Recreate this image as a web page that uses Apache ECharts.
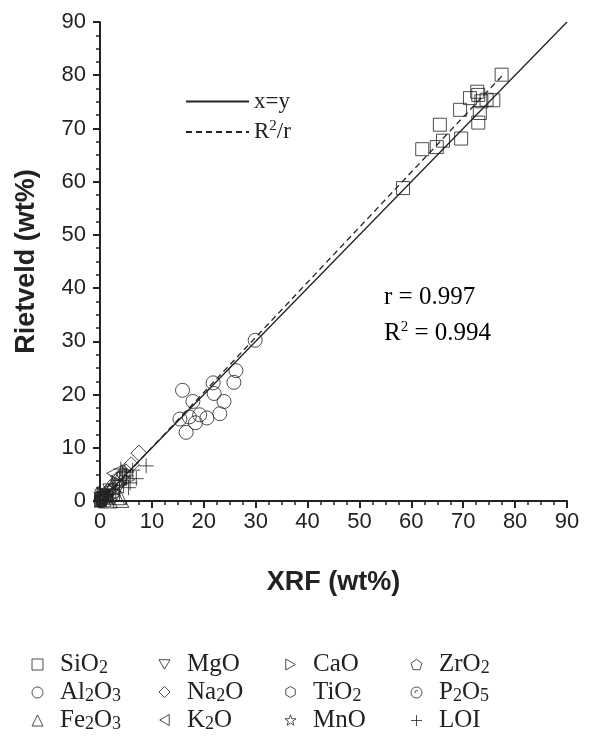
<!DOCTYPE html>
<html>
<head>
<meta charset="utf-8">
<script src="https://cdn.jsdelivr.net/npm/echarts@6/dist/echarts.min.js"></script>
<style>
  html, body { margin: 0; padding: 0; background: #fff; }
  #chart { width: 596px; height: 752px; }
</style>
</head>
<body>
<div id="chart"></div>
<script>
// XRF (x) vs Rietveld (y), wt%
const sio2 = [[77.4, 80.1], [72.7, 76.9], [72.9, 76.3], [71.3, 75.7], [75.8, 75.3], [73.5, 75.1],
  [74.5, 75.4], [69.4, 73.5], [73.2, 72.9], [72.9, 71.1], [65.5, 70.7], [69.6, 68.1],
  [66.1, 67.7], [64.9, 66.5], [62.1, 66.1], [58.4, 58.8]]
const al2o3 = [[29.9, 30.2], [26.2, 24.5], [25.8, 22.3], [21.8, 22.2], [15.9, 20.8], [22.0, 20.2],
  [17.9, 18.7], [23.9, 18.7], [23.1, 16.4], [15.4, 15.4], [17.2, 15.8], [19.2, 16.2],
  [20.6, 15.6], [18.4, 14.7], [16.6, 12.9]]
const fe2o3 = [[4.0, 0.3], [3.2, 0.8], [1.2, 1.5], [2.4, 2.8], [4.2, 5.3], [0.6, 0.4], [1.8, 0.2]]
const mgo = [[0.5, 0.8], [1.0, 0.4], [2.0, 1.8], [3.5, 2.5], [0.3, 0.3], [4.5, 4.0]]
const na2o = [[7.5, 9.0], [5.0, 5.5], [3.0, 3.5], [1.5, 1.8], [0.5, 0.8], [6.0, 6.8]]
const k2o = [[2.8, 5.2], [3.5, 4.6], [1.5, 2.0], [0.8, 1.0], [2.2, 1.5], [3.0, 3.0]]
const cao = [[1.0, 1.3], [2.5, 1.0], [0.4, 0.2], [3.8, 3.2], [5.2, 4.0]]
const tio2 = [[0.5, 0.6], [0.8, 0.3], [1.2, 1.0], [0.3, 0.8]]
const mno = [[0.1, 0.3], [0.2, 0.1], [0.5, 0.5], [1.5, 0.9]]
const zro2 = [[0.1, 0.2], [0.2, 0.5], [0.4, 0.1]]
const p2o5 = [[0.1, -0.1], [0.3, 0.4], [0.2, 0.8]]
const loi = [[8.9, 6.6], [7.0, 4.2], [5.8, 3.4], [5.1, 4.7], [4.8, 5.6], [4.0, 6.0], [6.3, 5.8],
  [3.8, 3.0], [2.5, 2.2], [5.5, 2.5], [1.5, 1.2]]

const identityLine = [[0, 0], [90, 90]]
const fitLine = [[0, -0.3], [77.5, 79.9]]

const ink = '#222'
const serif = '"Liberation Serif", "Times New Roman", serif'
const sans = '"Liberation Sans", Arial, sans-serif'

const star = 'path://M5,0L6.176,3.382L9.755,3.455L6.902,5.618L7.939,9.045L5,7L2.061,9.045L3.098,5.618L0.245,3.455L3.824,3.382Z'
const pentagon = 'path://M5,0L9.755,3.455L7.939,9.045L2.061,9.045L0.245,3.455Z'
const hexagon = 'path://M5,0L9.33,2.5L9.33,7.5L5,10L0.67,7.5L0.67,2.5Z'
const curl = 'path://M0,5A5,5 0 1,1 10,5A5,5 0 1,1 0,5ZM4.2,5.6A1.4,1.4 0 1,1 6.4,4.2'
const plus = 'path://M5,0L5,10M0,5L10,5'
const triDown = 'path://M0,0L10,0L5,8.66Z'
const triLeft = 'path://M0,5L8.66,0L8.66,10Z'
const triRight = 'path://M0,0L8.66,5L0,10Z'

const hollow = { color: 'rgba(0,0,0,0)', borderColor: ink, borderWidth: 1 }

function scatter(name, data, symbol, size) {
  return {
    name, type: 'scatter', data, symbol, symbolSize: size,
    itemStyle: hollow, clip: false, z: 3
  }
}

// subscripts / superscripts through rich text
const rich = {
  n: { fontFamily: serif, fontSize: 25, color: ink, lineHeight: 26 },
  f: { fontFamily: serif, fontSize: 25, color: ink, lineHeight: 26, padding: [0, 0, 0, 12] },
  s: { fontFamily: serif, fontSize: 18, color: ink, lineHeight: 4, verticalAlign: 'bottom' },
  p: { fontFamily: serif, fontSize: 15, color: ink, lineHeight: 10, verticalAlign: 'top' }
}
const chem = (name) => '{f|' + name.replace(/(\d)/g, '}{s|$1}{n|') + '}'

function column(left, names) {
  return {
    data: names, orient: 'vertical', left, top: 647, itemGap: 2.5,
    itemWidth: 11, itemHeight: 11, selectedMode: false,
    itemStyle: hollow,
    formatter: chem,
    textStyle: { rich }
  }
}

const chart = echarts.init(document.getElementById('chart'))

const axisCommon = {
  type: 'value', min: 0, max: 90, interval: 10,
  axisLine: { lineStyle: { color: ink, width: 2 } },
  axisTick: { length: 7, lineStyle: { color: ink, width: 2 } },
  minorTick: { show: true, splitNumber: 4, length: 4, lineStyle: { color: ink, width: 1.5 } },
  splitLine: { show: false },
  nameLocation: 'middle',
  nameTextStyle: { fontFamily: sans, fontWeight: 'bold', fontSize: 27, color: ink }
}

chart.setOption({
  animation: false,
  grid: { left: 100, right: 29, top: 22, bottom: 251, outerBoundsMode: 'none' },
  xAxis: Object.assign({}, axisCommon, {
    name: 'XRF (wt%)', nameGap: 68,
    axisLabel: { fontFamily: sans, fontSize: 22, color: ink, margin: 10 }
  }),
  yAxis: Object.assign({}, axisCommon, {
    name: 'Rietveld (wt%)', nameGap: 60,
    axisLabel: { fontFamily: sans, fontSize: 22, color: ink, margin: 14 }
  }),
  legend: [
    {
      data: ['x=y', 'R2/r'], orient: 'vertical', left: 180, top: 85, itemGap: 6,
      itemWidth: 63, itemHeight: 14, selectedMode: false,
      itemStyle: { opacity: 0 },
      formatter: (name) => name === 'R2/r' ? '{n|R}{p|2}{n|/r}' : '{n|x=y}',
      textStyle: { rich: Object.assign({}, rich, { n: Object.assign({}, rich.n, { fontSize: 23 }) }) }
    },
    column(26.5, ['SiO2', 'Al2O3', 'Fe2O3']),
    column(153.5, ['MgO', 'Na2O', 'K2O']),
    column(279.5, ['CaO', 'TiO2', 'MnO']),
    column(405.5, ['ZrO2', 'P2O5', 'LOI'])
  ],
  graphic: [
    {
      type: 'text', x: 384, y: 297,
      style: { text: '{n|r = 0.997}', rich, verticalAlign: 'middle' }
    },
    {
      type: 'text', x: 384, y: 333,
      style: { text: '{n|R}{p|2}{n| = 0.994}', rich, verticalAlign: 'middle' }
    }
  ],
  series: [
    {
      name: 'x=y', type: 'line', data: identityLine, symbol: 'none', z: 2,
      lineStyle: { color: ink, width: 1.3, type: 'solid' }
    },
    {
      name: 'R2/r', type: 'line', data: fitLine, symbol: 'none', z: 2,
      lineStyle: { color: ink, width: 1.3, type: [6, 4] }
    },
    scatter('SiO2', sio2, 'rect', 13),
    scatter('Al2O3', al2o3, 'circle', 14),
    scatter('Fe2O3', fe2o3, 'triangle', 16),
    scatter('MgO', mgo, triDown, 15),
    scatter('Na2O', na2o, 'diamond', 16),
    scatter('K2O', k2o, triLeft, 16),
    scatter('CaO', cao, triRight, 15),
    scatter('TiO2', tio2, hexagon, 13),
    scatter('MnO', mno, star, 13),
    scatter('ZrO2', zro2, pentagon, 13),
    scatter('P2O5', p2o5, curl, 13),
    scatter('LOI', loi, plus, 15)
  ]
})
</script>
</body>
</html>
